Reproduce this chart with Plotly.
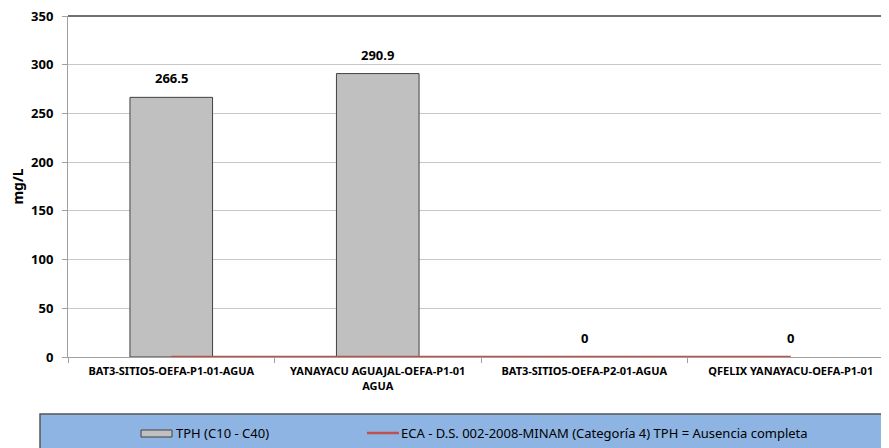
import plotly.graph_objects as go

categories = ["BAT3-SITIO5-OEFA-P1-01-AGUA", "YANAYACU AGUAJAL-OEFA-P1-01<br>AGUA",
              "BAT3-SITIO5-OEFA-P2-01-AGUA", "QFELIX YANAYACU-OEFA-P1-01"]
tph_values = [266.5, 290.9, 0, 0]
eca_values = [0, 0, 0, 0]
y_ticks = [0, 50, 100, 150, 200, 250, 300, 350]
tph_name = "TPH (C10 - C40)"
eca_name = "ECA - D.S. 002-2008-MINAM (Categoría 4) TPH = Ausencia completa"

OFF = 8  # page body margin
W, H = 889 - OFF, 448 - OFF
L, R, T, B = 68 - OFF, 889 - OFF, 16 - OFF, 357 - OFF
FONT = "Noto Sans"

def px(x):
    return (x - OFF - L) / (R - L)

def py(y):
    return (B - (y - OFF)) / (B - T)

fig = go.Figure()
fig.add_trace(go.Bar(
    x=categories, y=tph_values, name=tph_name, width=0.4,
    marker=dict(color="#C0C0C0",
                line=dict(color="#404040", width=[1 if v > 0 else 0 for v in tph_values])),
    showlegend=False,
))
fig.add_trace(go.Scatter(
    x=categories, y=eca_values, name=eca_name, mode="lines",
    line=dict(color="#C0504D", width=2.5), showlegend=False,
))

shapes = [
    dict(type="line", xref="paper", yref="paper", x0=0, x1=1, y0=1, y1=1,
         line=dict(color="#404040", width=1.5), layer="above"),
    dict(type="rect", xref="paper", yref="paper", x0=px(40), x1=px(895), y0=py(414), y1=py(452),
         fillcolor="#8DB4E2", line=dict(color="#555555", width=1.5), layer="above"),
    dict(type="rect", xref="paper", yref="paper", x0=px(141), x1=px(172), y0=py(430), y1=py(437),
         fillcolor="#C0C0C0", line=dict(color="#404040", width=1), layer="above"),
    dict(type="line", xref="paper", yref="paper", x0=px(367), x1=px(399), y0=py(433), y1=py(433),
         line=dict(color="#C0504D", width=2.5), layer="above"),
]
annotations = [
    dict(text=tph_name, xref="paper", yref="paper", x=px(174), y=py(433), xanchor="left",
         yanchor="middle", showarrow=False, font=dict(family=FONT, size=13, color="#000")),
    dict(text=eca_name, xref="paper", yref="paper", x=px(399), y=py(433), xanchor="left",
         yanchor="middle", showarrow=False, font=dict(family=FONT, size=13, color="#000")),
]
for cat, v in zip(categories, tph_values):
    annotations.append(dict(
        text=f"<b>{v:g}</b>", x=cat, y=v, xref="x", yref="y", yanchor="bottom",
        yshift=8, showarrow=False, font=dict(family=FONT, size=13, color="#000")))

fig.update_layout(
    width=W, height=H,
    margin=dict(l=L, r=W - R, t=T, b=H - B),
    plot_bgcolor="white", paper_bgcolor="white",
    bargap=0.6, shapes=shapes, annotations=annotations,
    font=dict(family=FONT),
    xaxis=dict(type="category", range=[-0.5, -0.5 + (R - L) / 206.5],
               tickson="boundaries", ticks="outside", ticklen=5, tickcolor="#A0A0A0",
               showline=True, linecolor="#A0A0A0", linewidth=1, showgrid=False,
               ticklabeloverflow="allow", ticklabelstandoff=4,
               tickfont=dict(family=FONT, size=11, color="#000", weight="bold")),
    yaxis=dict(range=[0, 350], tickmode="array", tickvals=y_ticks,
               ticks="outside", ticklen=5, tickcolor="#A0A0A0",
               showline=True, linecolor="#A0A0A0", linewidth=1,
               gridcolor="#C8C8C8", gridwidth=1, zeroline=False,
               ticklabeloverflow="allow", ticklabelstandoff=6, automargin=False,
               tickfont=dict(family=FONT, size=13, color="#000", weight="bold"),
               title=dict(text="mg/L", standoff=12,
                          font=dict(family=FONT, size=14, color="#000", weight="bold"))),
)

fig.write_html("out.html")
